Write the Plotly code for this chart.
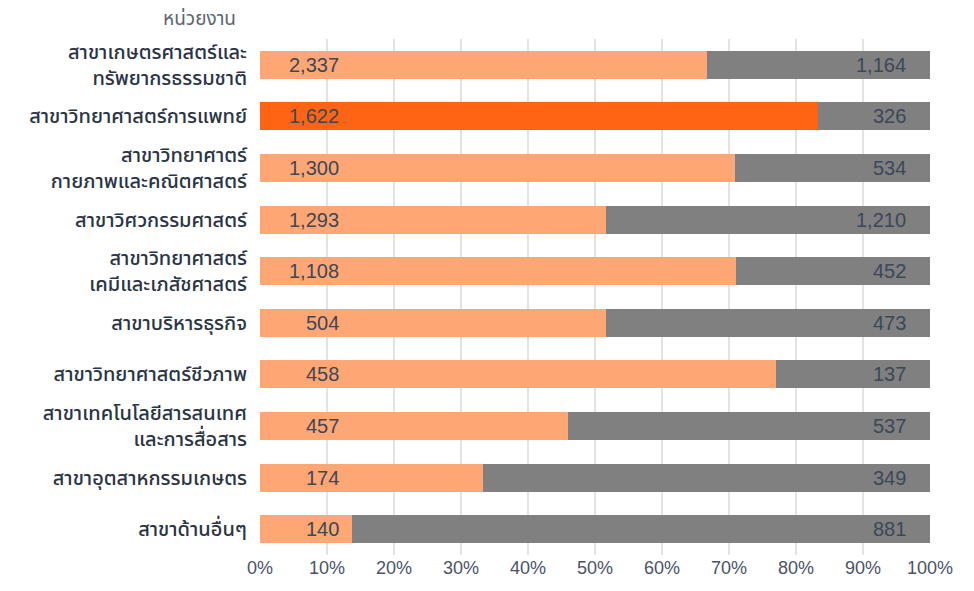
import plotly.graph_objects as go

categories = [
    "สาขาเกษตรศาสตร์และ<br>ทรัพยากรธรรมชาติ",
    "สาขาวิทยาศาสตร์การแพทย์",
    "สาขาวิทยาศาตร์<br>กายภาพและคณิตศาสตร์",
    "สาขาวิศวกรรมศาสตร์",
    "สาขาวิทยาศาสตร์<br>เคมีและเภสัชศาสตร์",
    "สาขาบริหารธุรกิจ",
    "สาขาวิทยาศาสตร์ชีวภาพ",
    "สาขาเทคโนโลยีสารสนเทศ<br>และการสื่อสาร",
    "สาขาอุตสาหกรรมเกษตร",
    "สาขาด้านอื่นๆ",
]
series_a = [2337, 1622, 1300, 1293, 1108, 504, 458, 457, 174, 140]
series_b = [1164, 326, 534, 1210, 452, 473, 137, 537, 349, 881]
highlight = "สาขาวิทยาศาสตร์การแพทย์"
tick_vals = [0, 10, 20, 30, 40, 50, 60, 70, 80, 90, 100]
tick_text = ["0%", "10%", "20%", "30%", "40%", "50%", "60%", "70%", "80%", "90%", "100%"]

LIGHT = "#FFA675"
DARK = "#FF6414"
GRAY = "#808080"
TXT = "#3c4758"
FONT = "Helvetica Neue, Arial, Liberation Sans, Noto Sans Thai, sans-serif"
THAI = "Noto Sans Thai, Noto Sans, Helvetica Neue, Arial, sans-serif"

colors_a = [DARK if c == highlight else LIGHT for c in categories]

fig = go.Figure()
fig.add_trace(go.Bar(y=categories, x=series_a, orientation="h",
                     marker=dict(color=colors_a, line=dict(width=0)),
                     hoverinfo="skip"))
fig.add_trace(go.Bar(y=categories, x=series_b, orientation="h",
                     marker=dict(color=GRAY, line=dict(width=0)),
                     hoverinfo="skip"))

annotations = []
for c, a, b in zip(categories, series_a, series_b):
    annotations.append(dict(x=0, y=c, xref="x", yref="y", text=f"{a:,}",
                            showarrow=False, xanchor="right", xshift=81,
                            font=dict(size=20, color=TXT, family=FONT)))
    annotations.append(dict(x=100, y=c, xref="x", yref="y", text=f"{b:,}",
                            showarrow=False, xanchor="right", xshift=-22,
                            font=dict(size=20, color=TXT, family=FONT)))
annotations.append(dict(x=(238 - 260) / 670, y=(555 - 20) / 516,
                        xref="paper", yref="paper", text="หน่วยงาน",
                        showarrow=False, xanchor="right", yanchor="middle",
                        font=dict(size=19, color="#5d6573", family=THAI)))

fig.update_layout(
    barmode="stack",
    barnorm="percent",
    bargap=0.46,
    width=974, height=591,
    margin=dict(l=252, r=52, t=31, b=44, autoexpand=False),
    plot_bgcolor="white", paper_bgcolor="white",
    showlegend=False,
    font=dict(family=FONT, color=TXT),
    annotations=annotations,
)
fig.update_xaxes(range=[0, 100], tickvals=tick_vals, ticktext=tick_text,
                 showgrid=True, gridcolor="#e3e3e3", gridwidth=2,
                 zeroline=False, showline=False, automargin=False,
                 tickfont=dict(size=18, color="#4a5366"), ticks="")
fig.update_yaxes(autorange="reversed", showgrid=False, zeroline=False,
                 automargin=False,
                 tickfont=dict(size=20, color="#2a3446", family=THAI, weight=500),
                 ticks="", ticklabelstandoff=12)

fig.write_html("out.html")
